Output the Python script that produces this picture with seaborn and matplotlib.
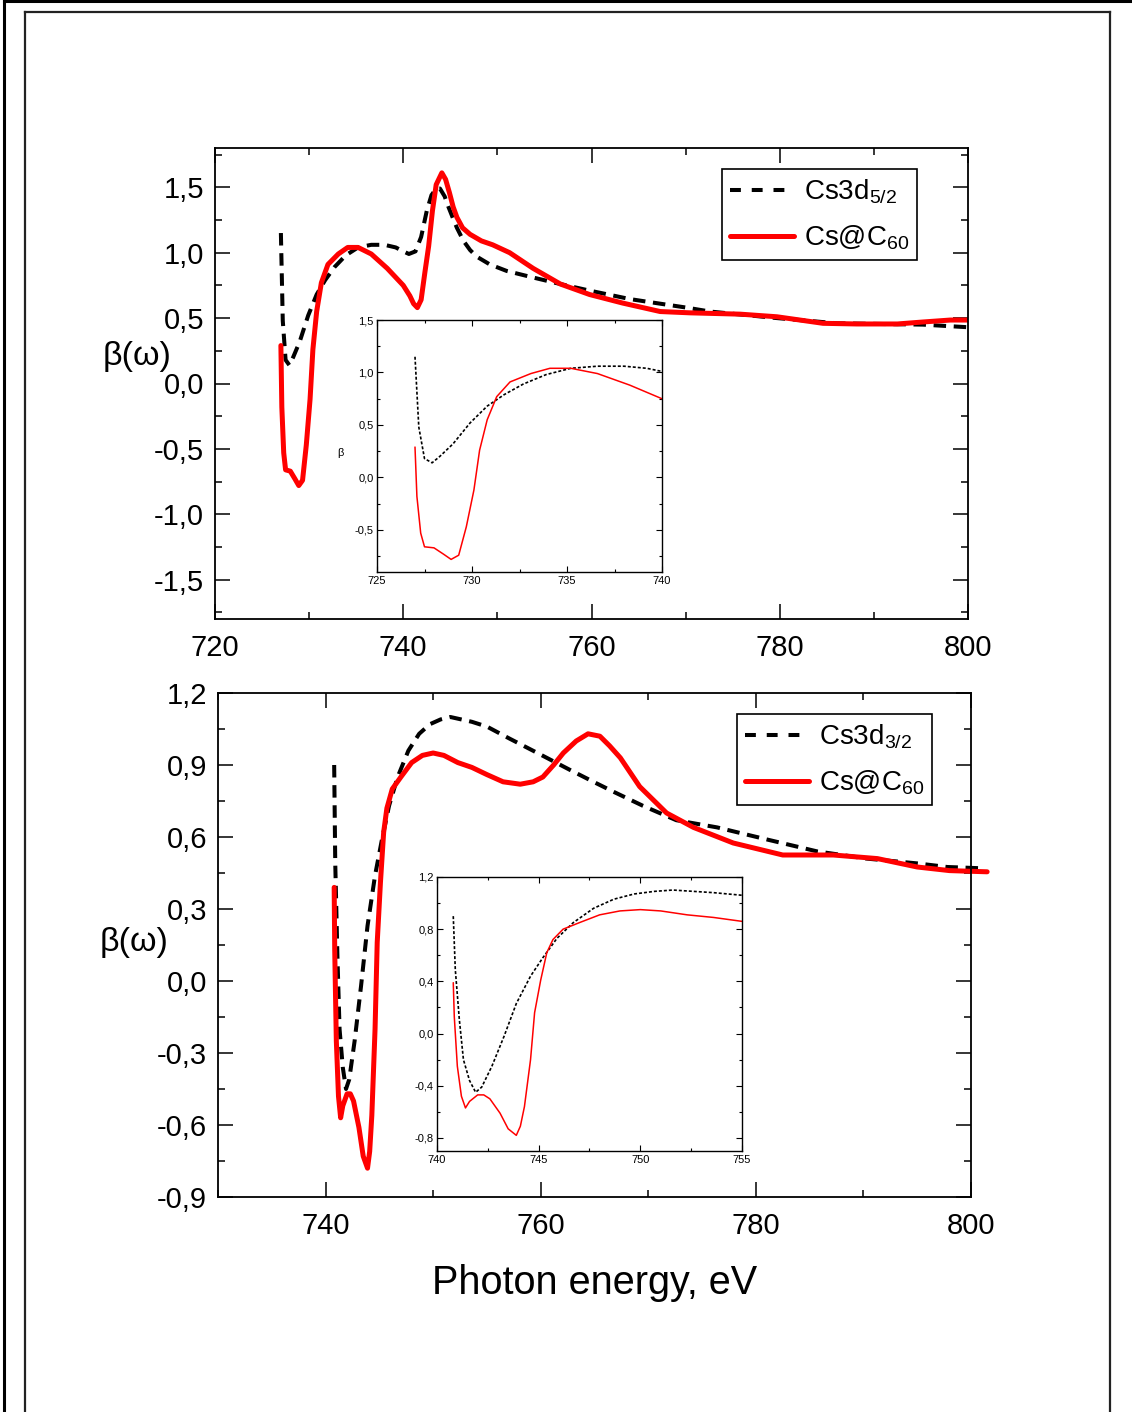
import matplotlib
matplotlib.use("Agg")
import numpy as np
import pandas as pd
import seaborn as sns
import matplotlib.pyplot as plt
from matplotlib.ticker import MultipleLocator, FuncFormatter
from matplotlib.lines import Line2D

# ---------------- data ----------------
# Upper panel: Cs 3d5/2
x_d52 = [727.0, 727.2, 727.5, 727.9, 728.3, 729.0, 729.9, 730.8, 731.7, 732.7, 733.9,
         735.2, 736.6, 738.0, 739.2, 740.0, 740.6, 741.3, 741.9, 742.5, 743.0, 743.5,
         743.9, 744.4, 744.8, 745.3, 745.7, 746.4, 747.1, 747.8, 749.2, 751.0, 753.8,
         756.7, 759.8, 764.1, 767.3, 770.1, 772.6, 779.7, 786.1, 795.2, 800.0]
y_d52 = [1.15, 0.48, 0.18, 0.14, 0.20, 0.32, 0.52, 0.68, 0.79, 0.89, 0.98,
         1.04, 1.06, 1.06, 1.04, 1.01, 0.99, 1.01, 1.12, 1.32, 1.44, 1.49,
         1.49, 1.43, 1.35, 1.26, 1.19, 1.09, 1.02, 0.97, 0.91, 0.86, 0.81,
         0.76, 0.71, 0.645, 0.61, 0.58, 0.55, 0.50, 0.46, 0.45, 0.43]
# Upper panel: Cs@C60
x_c60a = [727.0, 727.1, 727.3, 727.5, 728.0, 728.5, 728.9, 729.3, 729.7, 730.1, 730.4,
          730.8, 731.3, 732.0, 733.1, 734.1, 735.2, 736.6, 738.3, 740.0, 740.7, 741.1,
          741.5, 741.9, 742.3, 742.7, 743.1, 743.5, 744.1, 744.5, 744.9, 745.3, 745.7,
          746.3, 747.1, 748.3, 749.5, 751.3, 753.8, 756.7, 759.8, 763.3, 767.3, 770.5,
          775.8, 779.7, 784.6, 788.2, 792.5, 795.2, 798.1, 800.0]
y_c60a = [0.29, -0.18, -0.53, -0.66, -0.67, -0.73, -0.78, -0.74, -0.47, -0.12, 0.26,
          0.55, 0.77, 0.91, 0.99, 1.04, 1.04, 0.99, 0.88, 0.75, 0.67, 0.61,
          0.58, 0.64, 0.85, 1.05, 1.32, 1.52, 1.61, 1.56, 1.46, 1.35, 1.27,
          1.19, 1.14, 1.09, 1.06, 1.00, 0.88, 0.76, 0.68, 0.615, 0.55, 0.54,
          0.53, 0.51, 0.46, 0.455, 0.455, 0.47, 0.485, 0.485]
# Lower panel: Cs 3d3/2
x_d32 = [740.8, 740.9, 741.1, 741.3, 741.6, 741.9, 742.2, 742.7, 743.3, 743.9, 744.6,
         745.2, 745.9, 746.7, 747.7, 748.7, 749.7, 750.7, 751.6, 752.6, 753.6, 755.0,
         757.1, 759.7, 762.7, 764.9, 766.7, 769.5, 772.6, 776.4, 781.0, 785.7, 790.3,
         795.0, 797.8, 800.8]
y_d32 = [0.90, 0.49, 0.105, -0.20, -0.36, -0.45, -0.41, -0.25, -0.02, 0.23, 0.44,
         0.58, 0.73, 0.85, 0.96, 1.03, 1.07, 1.09, 1.10, 1.09, 1.08, 1.06,
         1.01, 0.95, 0.88, 0.83, 0.79, 0.73, 0.67, 0.64, 0.59, 0.54, 0.51,
         0.49, 0.475, 0.47]
# Lower panel: Cs@C60
x_c60b = [740.8, 740.85, 741.0, 741.2, 741.4, 741.6, 742.0, 742.3, 742.6, 743.1, 743.5,
          743.9, 744.1, 744.3, 744.6, 744.8, 745.1, 745.4, 745.7, 746.2, 747.0, 748.0,
          749.0, 750.0, 751.0, 752.3, 753.6, 755.0, 756.5, 758.1, 759.3, 760.2, 761.2,
          762.1, 763.3, 764.4, 765.5, 766.4, 767.4, 769.2, 771.7, 774.2, 777.9, 782.5,
          787.2, 791.3, 795.0, 798.0, 801.5]
y_c60b = [0.39, 0.13, -0.25, -0.48, -0.57, -0.52, -0.47, -0.47, -0.50, -0.61, -0.73,
          -0.78, -0.71, -0.56, -0.20, 0.16, 0.41, 0.62, 0.72, 0.80, 0.85, 0.91,
          0.94, 0.95, 0.94, 0.91, 0.89, 0.86, 0.83, 0.82, 0.83, 0.85, 0.90,
          0.95, 1.00, 1.03, 1.02, 0.98, 0.93, 0.81, 0.70, 0.64, 0.575, 0.525,
          0.525, 0.51, 0.475, 0.46, 0.455]

label_d52 = "Cs3d$_{5/2}$"
label_d32 = "Cs3d$_{3/2}$"
label_c60 = "Cs@C$_{60}$"
xlabel_text = "Photon energy, eV"
ylabel_text = "β(ω)"
inset_ylabel = "β"

# ---------------- style ----------------
sns.set_style("ticks")
plt.rcParams["font.family"] = ["Liberation Sans", "DejaVu Sans"]
plt.rcParams["mathtext.fontset"] = "custom"
plt.rcParams["mathtext.rm"] = "Liberation Sans"
plt.rcParams["mathtext.default"] = "regular"
for k in ["text.color", "axes.labelcolor", "xtick.color", "ytick.color",
          "axes.edgecolor"]:
    plt.rcParams[k] = "black"

W, H = 1132, 1412
fig = plt.figure(figsize=(W / 100, H / 100), dpi=100)


def rect(l, t, r, b):
    return [l / W, 1 - b / H, (r - l) / W, (b - t) / H]


def comma(v, pos):
    s = f"{v:.1f}".replace(".", ",")
    if s == "-0,0":
        s = "0,0"
    return s


def draw(ax, x, y, color, lw, dashes=None, clip=True):
    df = pd.DataFrame({"x": x, "y": y})
    sns.lineplot(data=df, x="x", y="y", ax=ax, color=color, lw=lw, sort=False,
                 estimator=None, legend=False)
    ln = ax.lines[-1]
    if dashes is not None:
        ln.set_dashes(dashes)
        ln.set_dash_capstyle("butt")
    ln.set_solid_joinstyle("round")
    ln.set_clip_on(clip)
    return ln


def style_axis(ax, xmaj, xmin, ymaj, ymin, fs_x, fs_y, L, l, w, padx, pady, spine_w):
    ax.xaxis.set_major_locator(MultipleLocator(xmaj))
    ax.xaxis.set_minor_locator(MultipleLocator(xmin))
    ax.yaxis.set_major_locator(MultipleLocator(ymaj))
    ax.yaxis.set_minor_locator(MultipleLocator(ymin))
    ax.yaxis.set_major_formatter(FuncFormatter(comma))
    ax.xaxis.set_major_formatter(FuncFormatter(lambda v, p: f"{v:.0f}"))
    ax.tick_params(which="both", direction="in", top=True, right=True, width=w,
                   color="black", labelcolor="black")
    ax.tick_params(which="major", length=L)
    ax.tick_params(which="minor", length=l)
    ax.tick_params(axis="x", labelsize=fs_x, pad=padx)
    ax.tick_params(axis="y", labelsize=fs_y, pad=pady)
    for s in ax.spines.values():
        s.set_linewidth(spine_w)
        s.set_color("black")
    ax.set_xlabel("")
    ax.set_ylabel("")
    ax.set_facecolor("white")


RED = "#ff0000"
BLK = "#000000"

leg_kw = dict(loc="upper left", borderaxespad=0, fontsize=20, frameon=True,
              fancybox=False, edgecolor="black", framealpha=1, handlelength=2.3,
              handletextpad=0.35, labelspacing=0.62, borderpad=0.3)
h1 = [Line2D([], [], color=BLK, lw=2.9, dashes=(2.7, 2.7)),
      Line2D([], [], color=RED, lw=3.6)]

# ---------------- upper main ----------------
ax1 = fig.add_axes(rect(215, 148, 968, 619))
draw(ax1, x_d52, y_d52, BLK, 2.9, dashes=(3.1, 1.9))
draw(ax1, x_c60a, y_c60a, RED, 3.6)
ax1.set_xlim(720, 800)
ax1.set_ylim(-1.8, 1.8)
style_axis(ax1, 20, 10, 0.5, 0.25, 21, 21, 10.5, 5, 1.1, 11, 8, 1.3)
leg1 = ax1.legend(h1, [label_d52, label_c60], bbox_to_anchor=(0.673, 0.955), **leg_kw)
leg1.get_frame().set_linewidth(1.2)

# ---------------- upper inset ----------------
ax1i = fig.add_axes(rect(377, 320, 662, 572))
draw(ax1i, x_d52, y_d52, BLK, 1.2, dashes=(1.8, 1.2))
draw(ax1i, x_c60a, y_c60a, RED, 1.1)
ax1i.set_xlim(725, 740)
ax1i.set_ylim(-0.9, 1.5)
style_axis(ax1i, 5, 2.5, 0.5, 0.25, 8, 8, 4, 2.5, 0.8, 3, 2.5, 1.0)

# ---------------- lower main ----------------
ax2 = fig.add_axes(rect(218, 693, 971, 1197))
draw(ax2, x_d32, y_d32, BLK, 2.9, dashes=(3.1, 1.9), clip=False)
draw(ax2, x_c60b, y_c60b, RED, 3.6, clip=False)
ax2.set_xlim(730, 800)
ax2.set_ylim(-0.9, 1.2)
style_axis(ax2, 20, 10, 0.3, 0.15, 21, 21, 10.5, 5, 1.1, 11, 8, 1.3)
leg2 = ax2.legend(h1, [label_d32, label_c60], bbox_to_anchor=(0.689, 0.958), **leg_kw)
leg2.get_frame().set_linewidth(1.2)

# ---------------- lower inset ----------------
ax2i = fig.add_axes(rect(437, 877, 742, 1151))
draw(ax2i, x_d32, y_d32, BLK, 1.2, dashes=(1.8, 1.2))
draw(ax2i, x_c60b, y_c60b, RED, 1.1)
ax2i.set_xlim(740, 755)
ax2i.set_ylim(-0.9, 1.2)
style_axis(ax2i, 5, 2.5, 0.4, 0.2, 8, 8, 4, 2.5, 0.8, 3, 2.5, 1.0)

# ---------------- texts ----------------
fig.text(103 / W, 1 - 357 / H, ylabel_text, fontsize=24.5, ha="left", va="center")
fig.text(100 / W, 1 - 943 / H, ylabel_text, fontsize=24.5, ha="left", va="center")
fig.text(340 / W, 1 - 453 / H, inset_ylabel, fontsize=8, ha="center", va="center")
fig.text(595 / W, 1 - 1283 / H, xlabel_text, fontsize=28.5, ha="center", va="center")

# ---------------- page frame ----------------
def fline(x0, y0, x1, y1, lw, color):
    fig.add_artist(Line2D([x0 / W, x1 / W], [1 - y0 / H, 1 - y1 / H],
                          transform=fig.transFigure, color=color, lw=lw,
                          solid_capstyle="projecting"))

fline(4, 1, 4, H + 5, 2.2, "black")
fline(4, 1, W + 5, 1, 2.2, "black")
fline(25, 12, 25, H + 5, 1.6, "#222222")
fline(25, 12, 1110, 12, 1.6, "#222222")
fline(1110, 12, 1110, H + 5, 1.6, "#222222")

fig.savefig("out.png", dpi=100, facecolor="white")
